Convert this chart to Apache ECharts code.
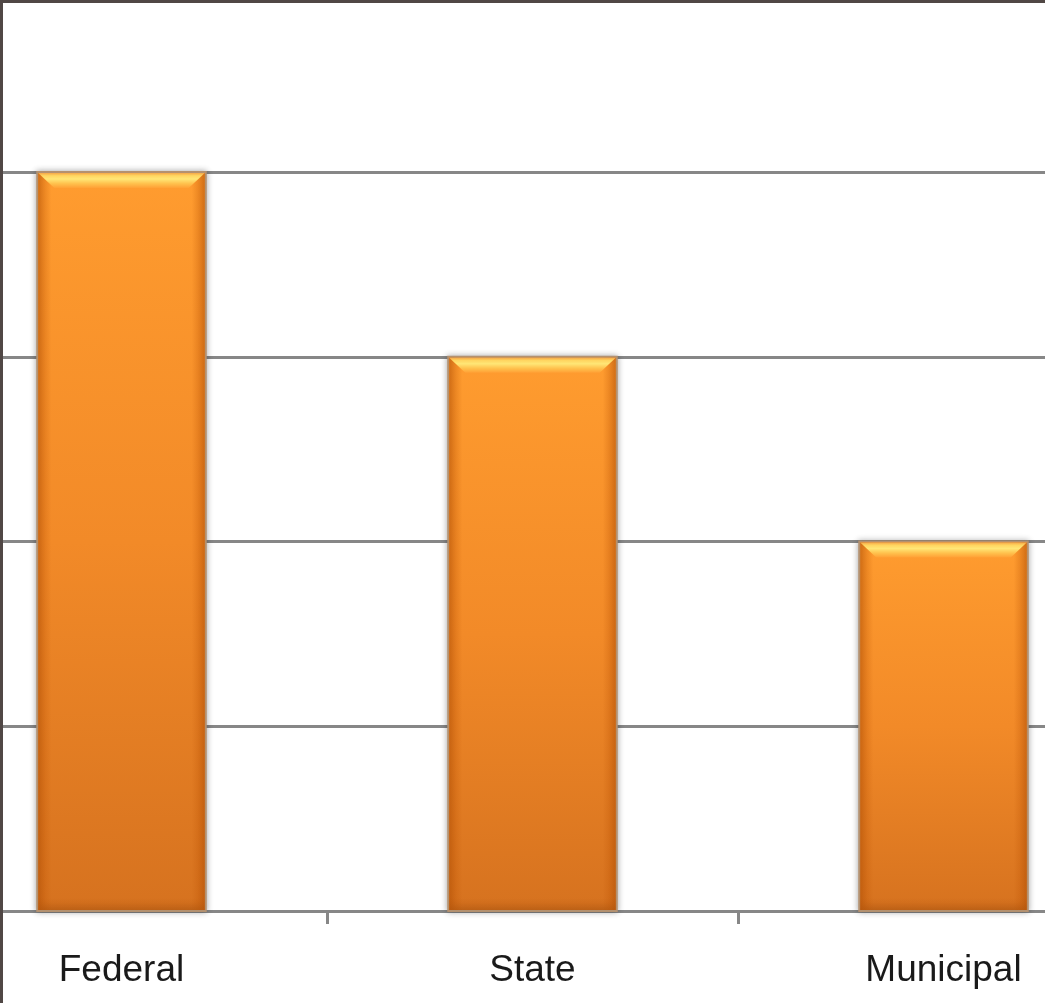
<!DOCTYPE html>
<html>
<head>
<meta charset="utf-8">
<script src="https://cdn.jsdelivr.net/npm/echarts@6/dist/echarts.min.js"></script>
<style>
html,body{margin:0;padding:0;background:#fff;}
#chart{width:1045px;height:1003px;}
</style>
</head>
<body>
<div id="chart"></div>
<script>
const categories = ['Federal', 'State', 'Municipal'];
const values = [4, 3, 2];
const yMax = 5;
const yInterval = 1;

const chart = echarts.init(document.getElementById('chart'), null, {renderer: 'canvas'});

function renderBar(params, api) {
  const idx = api.value(0);
  const val = api.value(1);
  const top = api.coord([idx, val]);
  const base = api.coord([idx, 0]);
  const band = api.size([1, 0])[0];
  const w = band * 0.41;
  const x0 = top[0] - w / 2;
  const x1 = top[0] + w / 2;
  const y0 = top[1];
  const y1 = base[1];
  const h = y1 - y0;
  const bev = 13;
  const tb = 17;
  return {
    type: 'group',
    children: [
      {
        type: 'rect',
        shape: {x: x0, y: y0, width: w, height: h},
        style: {
          fill: new echarts.graphic.LinearGradient(0, 0, 0, 1, [
            {offset: 0, color: '#FF9C2F'},
            {offset: 0.5, color: '#F28A28'},
            {offset: 1, color: '#D6721F'}
          ]),
          stroke: '#B4916F',
          lineWidth: 2,
          shadowColor: 'rgba(0,0,0,0.3)',
          shadowBlur: 6
        }
      },
      {
        type: 'rect',
        shape: {x: x0 + 1, y: y0 + 1, width: bev, height: h - 2},
        style: {
          fill: new echarts.graphic.LinearGradient(0, 0, 1, 0, [
            {offset: 0, color: 'rgba(190,85,5,0.55)'},
            {offset: 1, color: 'rgba(190,85,5,0)'}
          ])
        }
      },
      {
        type: 'rect',
        shape: {x: x1 - 1 - bev, y: y0 + 1, width: bev, height: h - 2},
        style: {
          fill: new echarts.graphic.LinearGradient(0, 0, 1, 0, [
            {offset: 0, color: 'rgba(190,85,5,0)'},
            {offset: 1, color: 'rgba(190,85,5,0.55)'}
          ])
        }
      },
      {
        type: 'rect',
        shape: {x: x0 + 1, y: y1 - bev, width: w - 2, height: bev - 1},
        style: {
          fill: new echarts.graphic.LinearGradient(0, 0, 0, 1, [
            {offset: 0, color: 'rgba(170,80,10,0)'},
            {offset: 1, color: 'rgba(170,80,10,0.35)'}
          ])
        }
      },
      {
        type: 'polygon',
        shape: {points: [[x0 + 1, y0 + 1], [x1 - 1, y0 + 1], [x1 - tb, y0 + tb - 1], [x0 + tb, y0 + tb - 1]]},
        style: {
          fill: new echarts.graphic.LinearGradient(0, 0, 0, 1, [
            {offset: 0, color: '#F5A848'},
            {offset: 0.18, color: '#FFD560'},
            {offset: 0.4, color: '#FFE676'},
            {offset: 0.7, color: '#FFC24E'},
            {offset: 1, color: '#FFA035'}
          ])
        }
      }
    ]
  };
}

chart.setOption({
  animation: false,
  backgroundColor: '#ffffff',
  grid: {
    left: -84,
    right: -104,
    top: -12.75,
    bottom: 92,
    containLabel: false,
    outerBoundsMode: 'none'
  },
  xAxis: {
    type: 'category',
    data: categories,
    axisLine: {show: true, lineStyle: {color: '#878787', width: 3}},
    axisTick: {show: true, length: 13, lineStyle: {color: '#878787', width: 3}},
    axisLabel: {
      color: '#1a1a1a',
      fontSize: 37,
      fontFamily: 'Liberation Sans',
      margin: 41,
      interval: 0
    }
  },
  yAxis: {
    type: 'value',
    min: 0,
    max: yMax,
    interval: yInterval,
    axisLine: {show: false},
    axisTick: {show: false},
    axisLabel: {show: false},
    splitLine: {show: true, lineStyle: {color: '#878787', width: 3}}
  },
  series: [{
    type: 'custom',
    renderItem: renderBar,
    encode: {x: 0, y: 1},
    data: values.map((v, i) => [i, v]),
    z: 3
  }],
  graphic: [
    {type: 'rect', left: 0, top: 0, shape: {width: 1045, height: 3}, style: {fill: '#504745'}, z: 100},
    {type: 'rect', left: 0, top: 0, shape: {width: 3, height: 1003}, style: {fill: '#504745'}, z: 100}
  ]
});
</script>
</body>
</html>
